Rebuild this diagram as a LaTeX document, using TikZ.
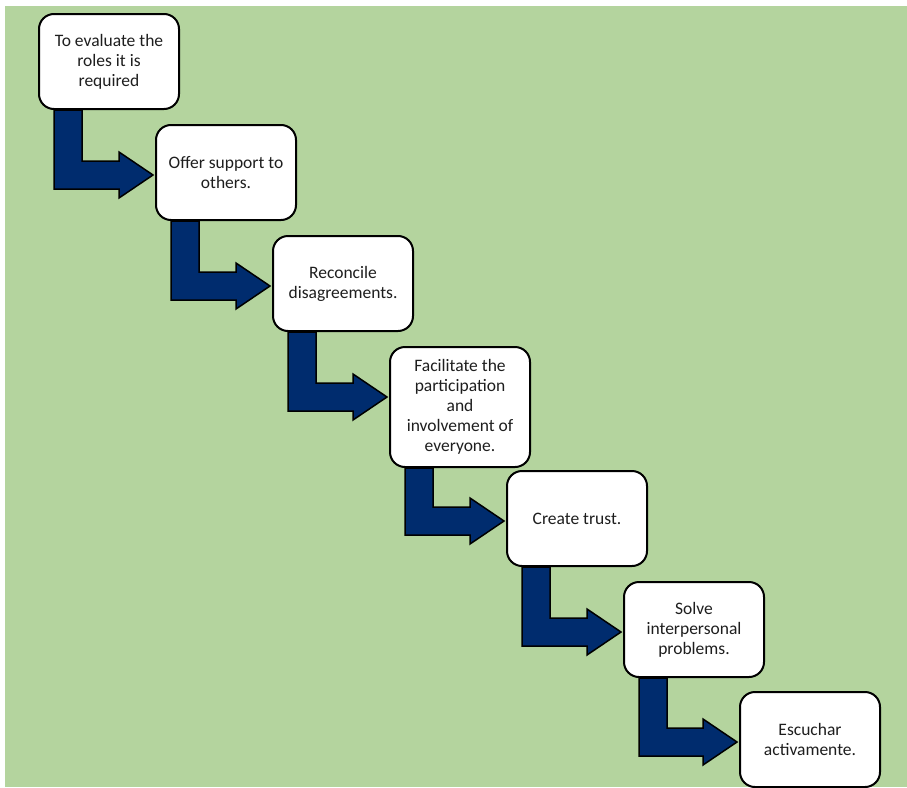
\documentclass[tikz,border=0pt]{standalone}
\usepackage{fontspec}
\setmainfont{Carlito}
\usetikzlibrary{calc}
\definecolor{bggreen}{RGB}{180,212,158}
\definecolor{navy}{RGB}{0,44,110}
\definecolor{txt}{RGB}{30,30,30}
\newcommand\drawstep[2]{%
  \draw[arr] let \p1=(#1.south west), \p2=(#2.north west) in
    (\x1+16,\y1) -- (\x1+16,\y2-65) -- (\x2-36,\y2-65) -- (\x2-36,\y2-74)
    -- (\x2-2,\y2-51) -- (\x2-36,\y2-28) -- (\x2-36,\y2-37)
    -- (\x1+44,\y2-37) -- (\x1+44,\y1) -- cycle;}
\begin{document}
\begin{tikzpicture}[x=1pt,y=-1pt,
  stepbox/.style={draw=black, line width=2pt, fill=white, rounded corners=15pt,
    anchor=north west, minimum width=140pt, minimum height=95pt, align=center,
    inner sep=2pt, text=txt, font=\fontsize{17.5pt}{20pt}\selectfont},
  arr/.style={fill=navy, draw=black, line width=1.5pt, line join=miter}]
\useasboundingbox (0,0) rectangle (907,787);
\fill[white] (0,0) rectangle (907,787);
\fill[bggreen] (5,6) rectangle (907,787);
\node[stepbox] (b1) at (38,13) {To evaluate the\\roles it is\\required};
\node[stepbox] (b2) at (155,124) {Offer support to\\others.};
\node[stepbox] (b3) at (272,235) {Reconcile\\disagreements.};
\node[stepbox, minimum height=120pt] (b4) at (389,346) {Facilitate the\\participation\\and\\involvement of\\everyone.};
\node[stepbox] (b5) at (506,470) {Create trust.};
\node[stepbox] (b6) at (623,581) {Solve\\interpersonal\\problems.};
\node[stepbox] (b7) at (739,691) {Escuchar\\activamente.};
\drawstep{b1}{b2}
\drawstep{b2}{b3}
\drawstep{b3}{b4}
\drawstep{b4}{b5}
\drawstep{b5}{b6}
\drawstep{b6}{b7}
\end{tikzpicture}
\end{document}
